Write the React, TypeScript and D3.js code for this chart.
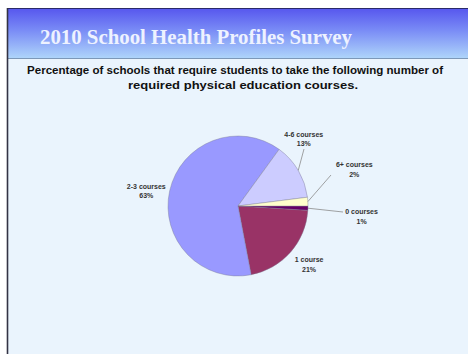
import React from "react";
import * as d3 from "d3";

const categories = ["0 courses", "1 course", "2-3 courses", "4-6 courses", "6+ courses"];
const values = [1, 21, 63, 13, 2];
const percentLabels = ["1%", "21%", "63%", "13%", "2%"];
const colors = ["#660066", "#993366", "#9999ff", "#ccccff", "#ffffcc"];

// label placement (angle offset in degrees, radius) per slice
const labelAngleOffset = [3, -2, -3, -15, -14];
const labelRadius = [124, 92, 93, 94, 122];
const leaderEnds: (null | [number, number])[] = [[105, 6], null, null, [66, -57], [93, -31]];

const W = 468;
const H = 354;

export default function App() {
  const cx = 238;
  const cy = 206;
  const r = 70;
  const pie = d3
    .pie<number>()
    .sort(null)
    .value((d) => d)
    .startAngle(Math.PI / 2)
    .endAngle(Math.PI / 2 + 2 * Math.PI);
  const arcs = pie(values);
  const arc = d3.arc<d3.PieArcDatum<number>>().innerRadius(0).outerRadius(r);

  const polar = (aD3: number, rad: number): [number, number] => [
    Math.sin(aD3) * rad,
    -Math.cos(aD3) * rad,
  ];

  return (
    <svg
      width={W}
      height={H}
      style={{ position: "absolute", left: 0, top: 0 }}
      xmlns="http://www.w3.org/2000/svg"
    >
      <defs>
        <linearGradient id="hdr" x1="0" y1="0" x2="0" y2="1">
          <stop offset="0%" stopColor="#5656ee" />
          <stop offset="45%" stopColor="#7a8cf6" />
          <stop offset="100%" stopColor="#aed4fa" />
        </linearGradient>
      </defs>
      <rect x={0} y={0} width={W} height={H} fill="#ffffff" />
      <rect x={7} y={8} width={W - 7} height={H - 8} fill="#eaf4fd" />
      <rect x={7} y={8} width={W - 7} height={50} fill="url(#hdr)" />
      <line x1={7} x2={W} y1={58.5} y2={58.5} stroke="#7d98b8" strokeWidth={1.2} />
      <line x1={7} x2={W} y1={8.5} y2={8.5} stroke="#2a2a6a" strokeWidth={1.2} />
      <line x1={7.5} x2={7.5} y1={8} y2={H} stroke="#333344" strokeWidth={1.6} />

      <text
        x={40}
        y={44}
        fontFamily="'Liberation Serif', 'DejaVu Serif', serif"
        fontWeight="bold"
        fontSize={21}
        fill="#eef2ff"
        textLength={312}
        lengthAdjust="spacingAndGlyphs"
      >
        2010 School Health Profiles Survey
      </text>

      <g fontFamily="'Liberation Sans', Arial, sans-serif" fontWeight="bold" fontSize={10.5} fill="#111" textAnchor="middle">
        <text x={235} y={73.5} textLength={416} lengthAdjust="spacingAndGlyphs">
          Percentage of schools that require students to take the following number of
        </text>
        <text x={243} y={88.5} textLength={230} lengthAdjust="spacingAndGlyphs">
          required physical education courses.
        </text>
      </g>

      <g transform={`translate(${cx},${cy})`}>
        {arcs.map((a, i) => (
          <path key={i} d={arc(a) || ""} fill={colors[i]} stroke="#7a7a90" strokeWidth={0.4} />
        ))}
        {arcs.map((a, i) => {
          const mid = (a.startAngle + a.endAngle) / 2;
          const [x0, y0] = polar(mid, r);
          const le = leaderEnds[i];
          return le ? (
            <line key={"l" + i} x1={x0} y1={y0} x2={le[0]} y2={le[1]} stroke="#8a8a8a" strokeWidth={0.8} />
          ) : null;
        })}
        {arcs.map((a, i) => {
          const mid = (a.startAngle + a.endAngle) / 2 + (labelAngleOffset[i] * Math.PI) / 180;
          const [lx, ly] = polar(mid, labelRadius[i]);
          return (
            <g key={"t" + i} fontFamily="'Liberation Sans', Arial, sans-serif" fontWeight="bold" fontSize={7} fill="#333" textAnchor="middle">
              <text x={lx} y={ly - 2}>{categories[i]}</text>
              <text x={lx} y={ly + 7.5}>{percentLabels[i]}</text>
            </g>
          );
        })}
      </g>
    </svg>
  );
}
